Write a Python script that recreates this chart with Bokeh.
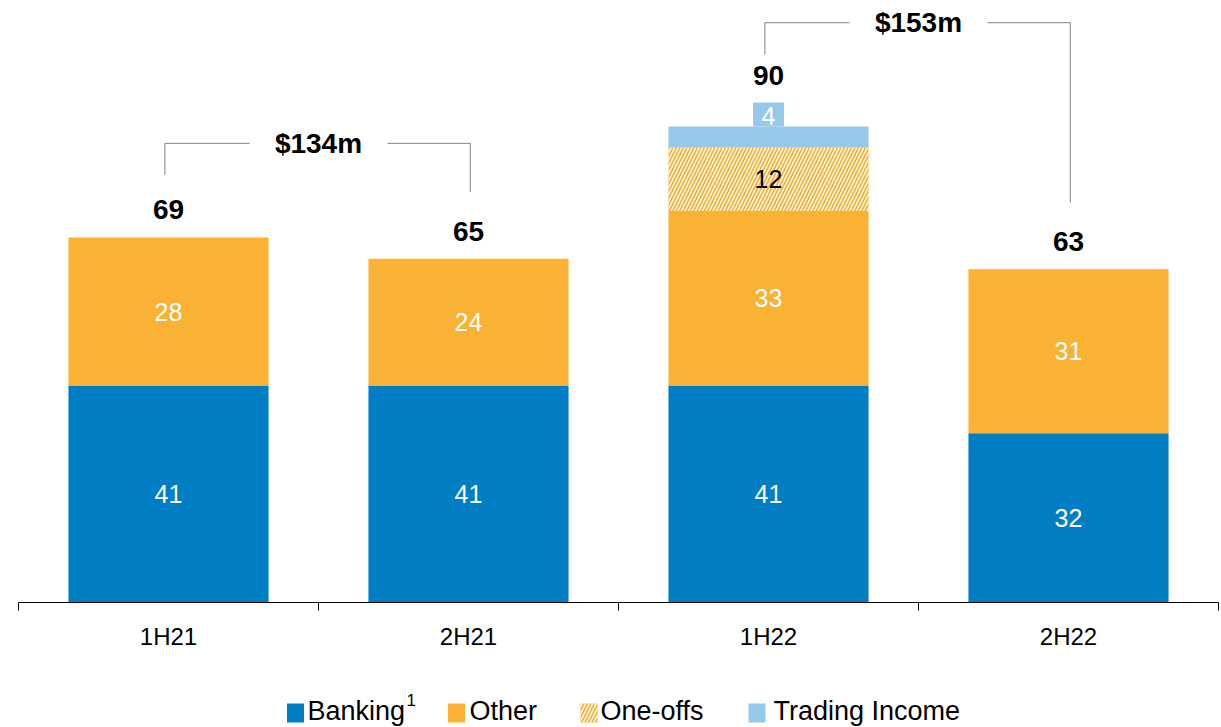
import numpy as np
from bokeh.plotting import figure
from bokeh.layouts import column
from bokeh.models import ColumnDataSource, Range1d, LinearAxis, FixedTicker
from bokeh.core.properties import value
from bokeh.embed import file_html
from bokeh.resources import INLINE

# ---- data ----
categories = ["1H21", "2H21", "1H22", "2H22"]
banking = [41, 41, 41, 32]
other = [28, 24, 33, 31]
one_offs = [0, 0, 12, 0]
trading = [0, 0, 4, 0]
totals = [69, 65, 90, 63]
group_labels = ["$134m", "$153m"]
group_pairs = [(0, 1), (2, 3)]
legend_labels = ["Banking", "Other", "One-offs", "Trading Income"]

# ---- layout / styles ----
C_BANK = "#007EC4"
C_OTHER = "#F9B233"
C_TRADE = "#96C8EC"
FONT = "Liberation Sans"
PX_PER_UNIT = 5.29
FRAME_H = 602
BRACKET_LEVELS = [86.8, 109.6]
HATCH = dict(hatch_pattern="/", hatch_color="white", hatch_weight=1.4, hatch_scale=7)

x = np.arange(1, len(categories) + 1, dtype=float)
b = np.array(banking, float)
o = np.array(other, float)
oo = np.array(one_offs, float)
t = np.array(trading, float)

p = figure(width=1221, height=665, output_backend="svg", toolbar_location=None,
           x_range=Range1d(0.5, 4.5), y_range=Range1d(0, FRAME_H / PX_PER_UNIT),
           x_axis_type=None, y_axis_type=None,
           min_border_left=18, min_border_right=3, min_border_top=0,
           min_border_bottom=63)
p.outline_line_color = None
p.grid.visible = False
p.background_fill_color = "white"
p.border_fill_color = "white"

W = 0.667
src = ColumnDataSource(dict(x=x, b0=np.zeros_like(b), b1=b, o1=b + o,
                            oo1=b + o + oo, t1=b + o + oo + t))
p.vbar(x="x", bottom="b0", top="b1", width=W, source=src,
       fill_color=C_BANK, line_color=None)
p.vbar(x="x", bottom="b1", top="o1", width=W, source=src,
       fill_color=C_OTHER, line_color=None)
p.vbar(x="x", bottom="o1", top="oo1", width=W, source=src,
       fill_color=C_OTHER, line_color=None, **HATCH)
p.vbar(x="x", bottom="oo1", top="t1", width=W, source=src,
       fill_color=C_TRADE, line_color=None)

# small label box for trading income
BOX_H = 4.5
mask_t = t > 0
tops = b + o + oo + t
p.vbar(x=x[mask_t], bottom=tops[mask_t], top=tops[mask_t] + BOX_H, width=0.103,
       fill_color=C_TRADE, line_color=None)

def seg_labels(xs, ys, vals, color):
    m = np.array(vals) > 0
    p.text(x=xs[m], y=ys[m], text=[str(int(v)) for v in np.array(vals)[m]],
           text_font=value(FONT), text_font_size=value("25px"),
           text_align="center", text_baseline="middle", text_color=color)

seg_labels(x, b / 2, banking, "white")
seg_labels(x, b + o / 2, other, "white")
seg_labels(x, b + o + oo / 2, one_offs, "black")
seg_labels(x, tops + BOX_H / 2 - 0.2, trading, "white")

# totals
label_top = tops + np.where(mask_t, BOX_H, 0)
total_y = label_top + 5.2
p.text(x=x, y=total_y, text=[str(v) for v in totals], text_font=value(FONT),
       text_font_size=value("28px"), text_font_style="bold", text_align="center",
       text_baseline="middle", text_color="black")

# brackets
for (i, j), lab, lvl in zip(group_pairs, group_labels, BRACKET_LEVELS):
    yl = lvl - 6.0
    yr = total_y[j] + 7.4
    xc = (x[i] + x[j]) / 2
    gap = 0.23
    xl, xr = x[i] - 0.012, x[j] + 0.006
    p.line(x=[xl, xl, xc - gap], y=[yl, lvl, lvl], line_color="#808080", line_width=1)
    p.line(x=[xc + gap, xr, xr], y=[lvl, lvl, yr], line_color="#808080", line_width=1)
    p.text(x=[xc], y=[lvl], text=[lab], text_font=value(FONT),
           text_font_size=value("28px"), text_font_style="bold",
           text_align="center", text_baseline="middle", text_color="black")

# x axis with boundary ticks
xaxis = LinearAxis(ticker=FixedTicker(ticks=list(x), minor_ticks=list(np.arange(0.5, 5.0, 1.0))),
                   major_label_overrides={int(v): c for v, c in zip(x, categories)})
xaxis.major_tick_out = 0
xaxis.major_tick_in = 0
xaxis.minor_tick_out = 8
xaxis.minor_tick_in = 0
xaxis.axis_line_color = "black"
xaxis.minor_tick_line_color = "black"
xaxis.major_label_text_font = FONT
xaxis.major_label_text_font_size = "24px"
xaxis.major_label_text_color = "black"
xaxis.major_label_standoff = 12
p.add_layout(xaxis, "below")

# ---- legend strip (separate small figure, page-pixel coordinates) ----
LEG_H = 62
TOP = 665  # page y where the legend strip begins
lg = figure(width=1221, height=LEG_H, output_backend="svg", toolbar_location=None,
            x_range=Range1d(18, 1218), y_range=Range1d(TOP + LEG_H, TOP),
            x_axis_type=None, y_axis_type=None,
            min_border_left=18, min_border_right=3, min_border_top=0, min_border_bottom=0)
lg.outline_line_color = None
lg.grid.visible = False
lg.background_fill_color = "white"
lg.border_fill_color = "white"

sq_x = [295, 456, 588.5, 756.5]
txt_x = [307, 469, 600, 773]
sq_y = 712.5
lg.rect(x=sq_x[:2] + sq_x[3:], y=[sq_y] * 3, width=17, height=19,
        fill_color=[C_BANK, C_OTHER, C_TRADE], line_color=None)
lg.rect(x=[sq_x[2]], y=[sq_y], width=17, height=19, fill_color=C_OTHER,
        line_color=None, **HATCH)
lg.text(x=txt_x, y=[710] * 4, text=legend_labels, text_font=value(FONT),
        text_font_size=value("27px"), text_align="left", text_baseline="middle",
        text_color="black")
lg.text(x=[406], y=[699], text=["1"], text_font=value(FONT),
        text_font_size=value("17px"), text_align="left", text_baseline="middle",
        text_color="black")

layout = column(p, lg, spacing=0)
open("out.html", "w").write(file_html(layout, INLINE))
